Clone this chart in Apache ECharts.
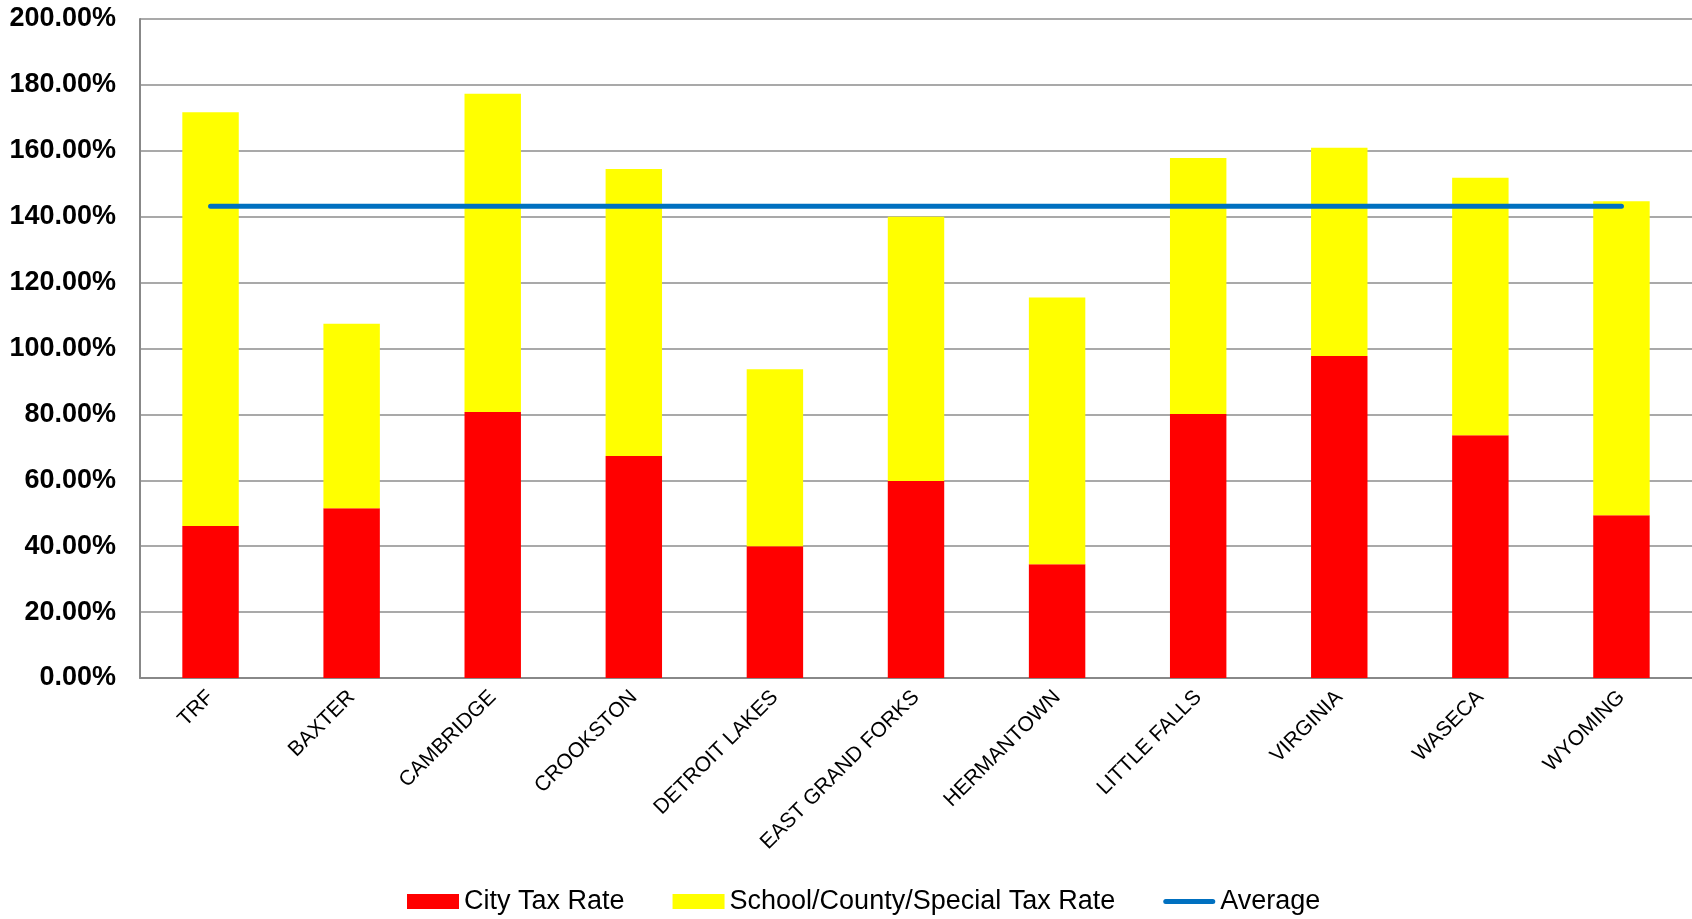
<!DOCTYPE html>
<html>
<head>
<meta charset="utf-8">
<script src="https://cdn.jsdelivr.net/npm/echarts@6/dist/echarts.min.js"></script>
<style>
  html, body { margin: 0; padding: 0; background: #fff; }
  #chart { width: 1692px; height: 919px; }
</style>
</head>
<body>
<div id="chart"></div>
<script>
const categories = ['TRF', 'BAXTER', 'CAMBRIDGE', 'CROOKSTON', 'DETROIT LAKES', 'EAST GRAND FORKS', 'HERMANTOWN', 'LITTLE FALLS', 'VIRGINIA', 'WASECA', 'WYOMING'];
const cityTaxRate = [46.1, 51.5, 80.7, 67.4, 40.0, 59.8, 34.5, 80.1, 97.7, 73.7, 49.4];
const schoolCountySpecialRate = [125.6, 56.0, 96.6, 87.1, 53.7, 80.2, 81.0, 77.7, 63.2, 78.1, 95.3];
const averageValues = [143.2, 143.2, 143.2, 143.2, 143.2, 143.2, 143.2, 143.2, 143.2, 143.2, 143.2];
const yTicks = { min: 0, max: 200, interval: 20 };

const chart = echarts.init(document.getElementById('chart'), null, { renderer: 'canvas' });
chart.setOption({
  animation: false,
  backgroundColor: '#ffffff',
  textStyle: { fontFamily: 'Liberation Sans, Arial, sans-serif' },
  grid: { left: 140, right: 0, top: 19, bottom: 241, containLabel: false },
  legend: {
    bottom: -1,
    left: 402,
    itemWidth: 52,
    itemHeight: 15,
    itemGap: 48,
    symbolKeepAspect: true,
    textStyle: { fontSize: 27, color: '#000', fontFamily: 'Liberation Sans, Arial, sans-serif' },
    data: [
      { name: 'City Tax Rate', icon: 'rect' },
      { name: 'School/County/Special Tax Rate', icon: 'rect' },
      { name: 'Average', icon: 'path://M2.5,0 L49.5,0 A2.5,2.5 0 0 1 49.5,5 L2.5,5 A2.5,2.5 0 0 1 2.5,0 Z' }
    ]
  },
  xAxis: {
    type: 'category',
    data: categories,
    boundaryGap: true,
    axisLine: { show: true, lineStyle: { color: '#888888', width: 2 } },
    axisTick: { show: false },
    axisLabel: {
      rotate: 45,
      fontSize: 21,
      color: '#000',
      margin: 16,
      interval: 0,
      fontFamily: 'Liberation Sans, Arial, sans-serif'
    }
  },
  yAxis: {
    type: 'value',
    min: yTicks.min,
    max: yTicks.max,
    interval: yTicks.interval,
    axisLine: { show: true, lineStyle: { color: '#888888', width: 2 } },
    axisTick: { show: false },
    splitLine: { show: true, lineStyle: { color: '#8c8c8c', width: 1.5 } },
    axisLabel: {
      fontSize: 27,
      fontWeight: 'bold',
      color: '#000',
      margin: 24,
      fontFamily: 'Liberation Sans, Arial, sans-serif',
      formatter: v => v.toFixed(2) + '%'
    }
  },
  series: [
    {
      name: 'City Tax Rate',
      type: 'bar',
      stack: 'total',
      barWidth: '40%',
      itemStyle: { color: '#ff0000' },
      data: cityTaxRate
    },
    {
      name: 'School/County/Special Tax Rate',
      type: 'bar',
      stack: 'total',
      barWidth: '40%',
      itemStyle: { color: '#ffff00' },
      data: schoolCountySpecialRate
    },
    {
      name: 'Average',
      type: 'line',
      data: averageValues,
      symbol: 'none',
      showSymbol: false,
      z: 5,
      itemStyle: { color: '#0070c0' },
      lineStyle: { color: '#0070c0', width: 5, cap: 'round' }
    }
  ]
});
</script>
</body>
</html>
